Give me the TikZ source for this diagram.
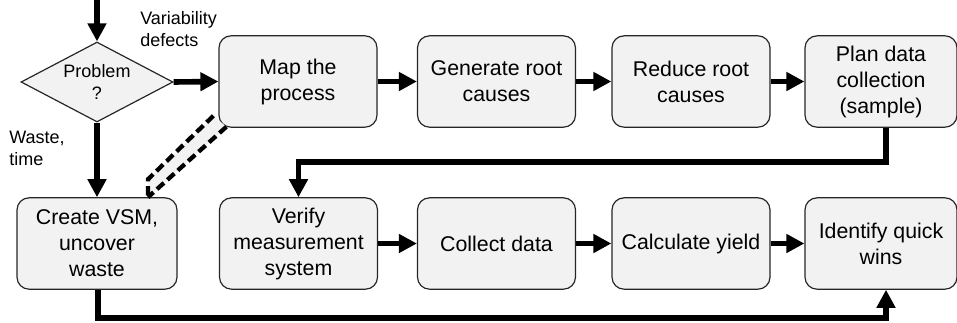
\documentclass[tikz,border=0pt]{standalone}
\usepackage{fontspec}
\setmainfont{Liberation Sans}
\usetikzlibrary{arrows.meta,shapes.geometric,calc}
\definecolor{boxfill}{HTML}{F2F2F2}
\begin{document}
\begin{tikzpicture}[x=0.75pt,y=-0.75pt,
  stepbox/.style={draw=black!85,line width=0.9pt,fill=boxfill,rounded corners=9pt,
    minimum width=118.5pt,minimum height=68.5pt,inner sep=2pt,align=center,
    font=\fontsize{16}{19.5}\selectfont},
  decision/.style={diamond,draw=black!85,line width=0.9pt,fill=boxfill,aspect=1.9,
    minimum width=114pt,minimum height=60pt,inner sep=0pt,align=center,
    font=\fontsize{13.5}{16.5}\selectfont},
  lbl/.style={align=left,inner sep=0pt,font=\fontsize{13.5}{16.5}\selectfont},
  arr/.style={line width=4.2pt,-{Triangle[length=13.5pt,width=13.5pt]}},
  band/.style={line width=3.2pt,dash pattern=on 7pt off 3.5pt}
]
\useasboundingbox (0,0) rectangle (957,322);
% nodes
\node[decision] (prob) at (97,82) {Problem\\?};
\node[stepbox] (map) at (298,81.5) {Map the\\process};
\node[stepbox] (gen) at (496.5,81.5) {Generate root\\causes};
\node[stepbox] (red) at (691,81.5) {Reduce root\\causes};
\node[stepbox,minimum width=114pt] (plan) at (881,81.5) {Plan data\\collection\\(sample)};
\node[stepbox,minimum width=120pt] (create) at (97,243.5) {Create VSM,\\uncover\\waste};
\node[stepbox] (verify) at (298.5,243.5) {Verify\\measurement\\system};
\node[stepbox] (collect) at (496.5,243.5) {Collect data};
\node[stepbox] (calc) at (691,243.5) {Calculate yield};
\node[stepbox,minimum width=114pt] (ident) at (881,243.5) {Identify quick\\wins};
% labels
\node[lbl,anchor=west] (varlbl) at (140,29) {Variability\\defects};
\node[lbl,anchor=west] (wastelbl) at (9,148) {Waste,\\time};
% helper coordinates
\coordinate (topin) at (97,0);
\coordinate (midrow) at (0,162);
\coordinate (botrow) at (0,318);
\coordinate (pb) at ([xshift=3.75pt]plan.south);
\coordinate (ib) at ([xshift=3.75pt]ident.south);
% connectors
\draw[arr] (topin) -- (prob.north);
\draw[arr] (prob.east) -- (map.west);
\draw[arr] (prob.south) -- (create.north);
\draw[arr] (map.east) -- (gen.west);
\draw[arr] (gen.east) -- (red.west);
\draw[arr] (red.east) -- (plan.west);
\draw[arr] (pb) |- (verify.north |- midrow) -- (verify.north);
\draw[arr] (verify.east) -- (collect.west);
\draw[arr] (collect.east) -- (calc.west);
\draw[arr] (calc.east) -- (ident.west);
\draw[arr] ([xshift=0.75pt]create.south) |- (ib |- botrow) -- (ib);
% dashed band from map to create
\coordinate (dA) at ($(map.south west)+(-5,-12)$);
\coordinate (dD) at ($(map.south west)+(8,-1)$);
\coordinate (dB) at ($(create.north)+(51,-18)$);
\coordinate (dC) at ($(create.north)+(51,0)$);
\fill[boxfill] (dA) -- (dB) -- (dC) -- (dD) -- cycle;
\draw[band] (dA) -- (dB) -- (dC);
\draw[band] (dD) -- (dC);
\end{tikzpicture}
\end{document}
